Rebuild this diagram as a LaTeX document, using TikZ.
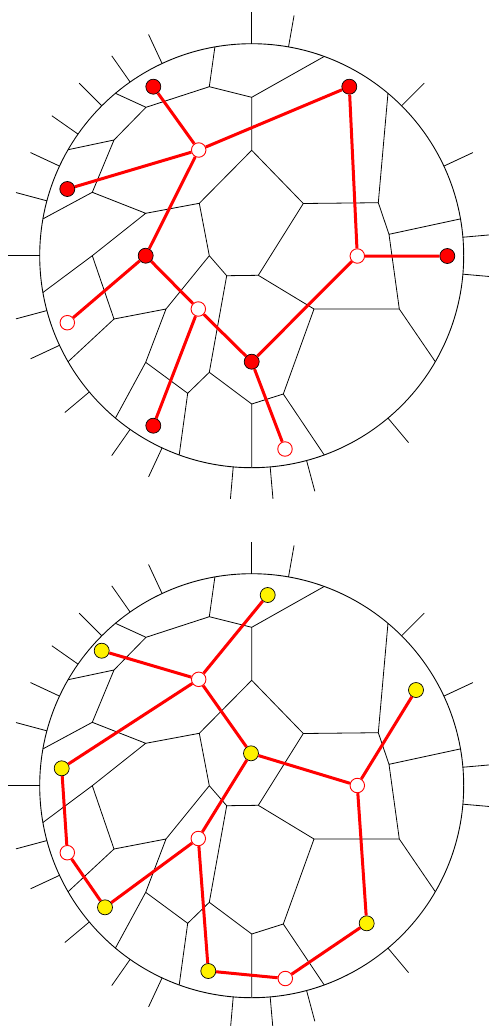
\documentclass[tikz,border=0pt]{standalone}
\usetikzlibrary{calc}
\tikzset{
  vor/.style={line width=0.8pt, black},
  tree/.style={line width=3pt, red},
  rnode/.style={circle, fill=red, draw=black, line width=0.7pt, minimum size=15pt, inner sep=0pt},
  wnode/.style={circle, fill=white, draw=red, line width=0.9pt, minimum size=14.5pt, inner sep=0pt},
  ynode/.style={circle, fill=yellow, draw=black, line width=0.7pt, minimum size=15pt, inner sep=0pt},
  disk/.style={circle, draw=black, line width=0.9pt, minimum size=424pt, inner sep=0pt, outer sep=0pt},
}
\newcommand\voro[2]{%
  \foreach \a in {5,25,45,80,90,115,125,135,145,155,165,180,195,205,220,235,245,265,275,285,310,355}{
    \draw[vor] (#1.\a) -- ($(#1.center)!244pt!(#1.\a)$);
  }
  \begin{scope}[yshift=-#2pt]
    \coordinate (v1) at (209.3,86.7);
    \coordinate (v2) at (146,107.3);
    \coordinate (v3) at (114,140);
    \coordinate (v4) at (92.3,192.3);
    \coordinate (v5) at (145.7,213.3);
    \coordinate (v6) at (199.3,203.3);
    \coordinate (v7) at (251.7,97.3);
    \coordinate (v8) at (251.7,150.3);
    \coordinate (v9) at (303.3,203.5);
    \coordinate (v10) at (378.3,202.7);
    \coordinate (v11) at (389,234.3);
    \coordinate (v12) at (399.3,309);
    \coordinate (v13) at (314,309);
    \coordinate (v14) at (258.3,275.3);
    \coordinate (v15) at (226.7,275.7);
    \coordinate (v16) at (209.3,255.7);
    \coordinate (v17) at (166,309);
    \coordinate (v18) at (114,319);
    \coordinate (v19) at (92.3,255.7);
    \coordinate (v20) at (145.7,362.3);
    \coordinate (v21) at (187.7,393.3);
    \coordinate (v22) at (209.3,372.3);
    \coordinate (v23) at (251.7,404);
    \coordinate (v24) at (283.3,394);
    \draw[vor] (#1.100)--(v1) (v1)--(v2) (v1)--(v7) (v2)--(#1.130) (v2)--(v3)
      (v3)--(#1.150) (v3)--(v4) (v4)--(#1.170) (v4)--(v5) (v5)--(v6) (v5)--(v19)
      (v6)--(v8) (v6)--(v16) (v7)--(#1.70) (v7)--(v8) (v8)--(v9) (v9)--(v10)
      (v9)--(v14) (v10)--(#1.50) (v10)--(v11) (v11)--(#1.10) (v11)--(v12)
      (v12)--(v13) (v12)--(#1.330) (v13)--(v14) (v13)--(v24) (v14)--(v15)
      (v15)--(v16) (v15)--(v22) (v16)--(v17) (v17)--(v18) (v17)--(v20)
      (v18)--(v19) (v18)--(#1.210) (v19)--(#1.190) (v20)--(v21) (v20)--(#1.230)
      (v21)--(v22) (v21)--(#1.250) (v22)--(v23) (v23)--(v24) (v23)--(#1.270)
      (v24)--(#1.290);
  \end{scope}
}
\begin{document}
\begin{tikzpicture}[x=1pt,y=-1pt]
  \useasboundingbox (0,0) rectangle (489,1026);
  % top diagram
  \node[disk] (C1) at (251.7,255.7) {};
  \voro{C1}{0}
  \node[rnode] (t1) at (153.3,86.7) {};
  \node[rnode] (t2) at (349.3,86.7) {};
  \node[wnode] (t3) at (198.7,150) {};
  \node[rnode] (t4) at (67.3,189) {};
  \node[rnode] (t5) at (145.7,255.7) {};
  \node[wnode] (t6) at (357.3,256) {};
  \node[rnode] (t7) at (447.3,256) {};
  \node[wnode] (t8) at (67.3,322.7) {};
  \node[wnode] (t9) at (198.3,309) {};
  \node[rnode] (t10) at (251.7,361.7) {};
  \node[rnode] (t11) at (153.3,425.7) {};
  \node[wnode] (t12) at (285,449) {};
  \draw[tree] (t1)--(t3) (t4)--(t3) (t2)--(t3) (t3)--(t5) (t2)--(t6) (t6)--(t7)
    (t6)--(t10) (t5)--(t8) (t5)--(t9) (t9)--(t10) (t9)--(t11) (t10)--(t12);
  % bottom diagram
  \node[disk] (C2) at (251.7,785.7) {};
  \voro{C2}{530}
  \node[ynode] (u1) at (267.7,595) {};
  \node[ynode] (u2) at (101.7,650.7) {};
  \node[wnode] (u3) at (198.7,679.3) {};
  \node[ynode] (u4) at (416,690) {};
  \node[ynode] (u5) at (251,753.3) {};
  \node[ynode] (u6) at (61.7,768.3) {};
  \node[wnode] (u7) at (357.3,785.5) {};
  \node[wnode] (u8) at (198.3,838.5) {};
  \node[wnode] (u9) at (67.3,852.7) {};
  \node[ynode] (u10) at (105,907.3) {};
  \node[ynode] (u11) at (366.7,923.3) {};
  \node[ynode] (u12) at (208.3,971) {};
  \node[wnode] (u13) at (285.3,978.5) {};
  \draw[tree] (u1)--(u3) (u2)--(u3) (u3)--(u6) (u3)--(u5) (u5)--(u7) (u5)--(u8)
    (u7)--(u4) (u7)--(u11) (u11)--(u13) (u13)--(u12) (u12)--(u8) (u8)--(u10)
    (u10)--(u9) (u9)--(u6);
\end{tikzpicture}
\end{document}
